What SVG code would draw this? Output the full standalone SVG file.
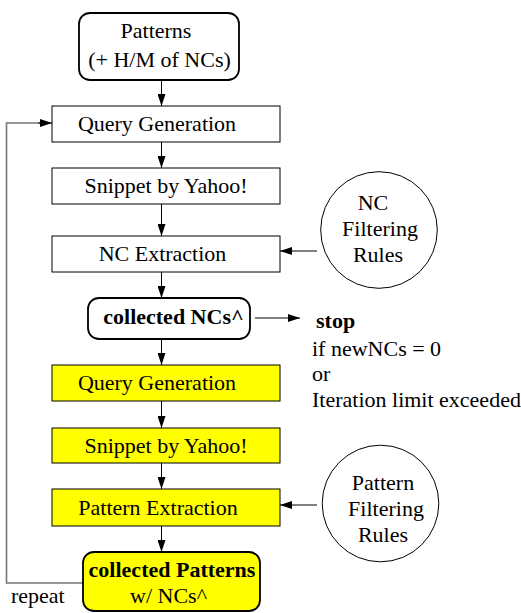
<svg xmlns="http://www.w3.org/2000/svg" width="521" height="613" viewBox="0 0 521 613">
<style>
text{font-family:"Liberation Serif","Times New Roman",Times,serif;font-size:22px;fill:#000}
.m{text-anchor:middle}
.b{font-weight:bold}
.box{fill:#fff;stroke:#000;stroke-width:1}
.ybox{fill:#ffff00;stroke:#000;stroke-width:1}
.rbox{fill:#fff;stroke:#000;stroke-width:1.8}
.rybox{fill:#ffff00;stroke:#000;stroke-width:1.8}
.circ{fill:#fff;stroke:#000;stroke-width:1}
.c{fill:none;stroke:#000;stroke-width:1}
.loop{fill:none;stroke:#777;stroke-width:1.6}
</style>
<defs>
<marker id="ah" viewBox="0 0 12 8" refX="12" refY="4" markerWidth="12" markerHeight="8" markerUnits="userSpaceOnUse" orient="auto">
<path d="M0,0 L12,4 L0,8 Z" fill="#000"/>
</marker>
</defs>
<g id="connectors">
<line class="c" x1="161.5" y1="80" x2="161.5" y2="106" marker-end="url(#ah)"/>
<line class="c" x1="161.5" y1="142" x2="161.5" y2="168" marker-end="url(#ah)"/>
<line class="c" x1="161.5" y1="204" x2="161.5" y2="236" marker-end="url(#ah)"/>
<line class="c" x1="161.5" y1="272" x2="161.5" y2="298" marker-end="url(#ah)"/>
<line class="c" x1="161.5" y1="339" x2="161.5" y2="365" marker-end="url(#ah)"/>
<line class="c" x1="161.5" y1="401" x2="161.5" y2="428" marker-end="url(#ah)"/>
<line class="c" x1="161.5" y1="463" x2="161.5" y2="489" marker-end="url(#ah)"/>
<line class="c" x1="161.5" y1="526" x2="161.5" y2="552" marker-end="url(#ah)"/>
<line class="c" x1="317" y1="251" x2="280" y2="251" marker-end="url(#ah)"/>
<line class="c" x1="317" y1="505" x2="280" y2="505" marker-end="url(#ah)"/>
<line class="c" x1="255" y1="318" x2="300" y2="318" marker-end="url(#ah)"/>
<polyline class="loop" points="83,583 6.5,583 6.5,123 40,123"/>
<line class="c" x1="38" y1="123" x2="52" y2="123" marker-end="url(#ah)"/>
</g>
<g id="start">
<rect class="rbox" x="79" y="13" width="160" height="67" rx="11"/>
<text class="m" x="156" y="37.5">Patterns</text>
<text class="m" x="159.5" y="66.5">(+ H/M of NCs)</text>
</g>
<g id="qg1">
<rect class="box" x="52" y="106" width="228" height="36"/>
<text class="m" x="157" y="131">Query Generation</text>
</g>
<g id="snip1">
<rect class="box" x="52" y="168" width="228" height="36"/>
<text class="m" x="166" y="193">Snippet by Yahoo!</text>
</g>
<g id="nce">
<rect class="box" x="52" y="236" width="228" height="36"/>
<text class="m" x="162.5" y="261">NC Extraction</text>
</g>
<g id="ncrules">
<circle class="circ" cx="379" cy="230" r="58.3"/>
<text class="m" x="373" y="210">NC</text>
<text class="m" x="380" y="236">Filtering</text>
<text class="m" x="378" y="261.5">Rules</text>
</g>
<g id="collectedNCs">
<rect class="rbox" x="88" y="298" width="162" height="41" rx="11"/>
<text class="m b" x="173.5" y="324">collected NCs^</text>
</g>
<g id="stop">
<text class="b" x="316" y="328">stop</text>
<text x="312" y="356">if newNCs = 0</text>
<text x="312" y="381">or</text>
<text x="312" y="407">Iteration limit exceeded</text>
</g>
<g id="qg2">
<rect class="ybox" x="52" y="365" width="228" height="36"/>
<text class="m" x="157" y="390">Query Generation</text>
</g>
<g id="snip2">
<rect class="ybox" x="52" y="428" width="228" height="35"/>
<text class="m" x="166" y="453">Snippet by Yahoo!</text>
</g>
<g id="pate">
<rect class="ybox" x="52" y="489" width="228" height="37"/>
<text class="m" x="158" y="515">Pattern Extraction</text>
</g>
<g id="patrules">
<circle class="circ" cx="380.5" cy="503.5" r="58.3"/>
<text class="m" x="383" y="490">Pattern</text>
<text class="m" x="386" y="515.5">Filtering</text>
<text class="m" x="383" y="541.5">Rules</text>
</g>
<g id="collectedPatterns">
<rect class="rybox" x="83" y="552" width="177" height="59" rx="11"/>
<text class="m b" x="172" y="577">collected Patterns</text>
<text class="m" x="168.5" y="603">w/ NCs^</text>
</g>
<g id="repeat">
<text x="11" y="603">repeat</text>
</g>
</svg>
